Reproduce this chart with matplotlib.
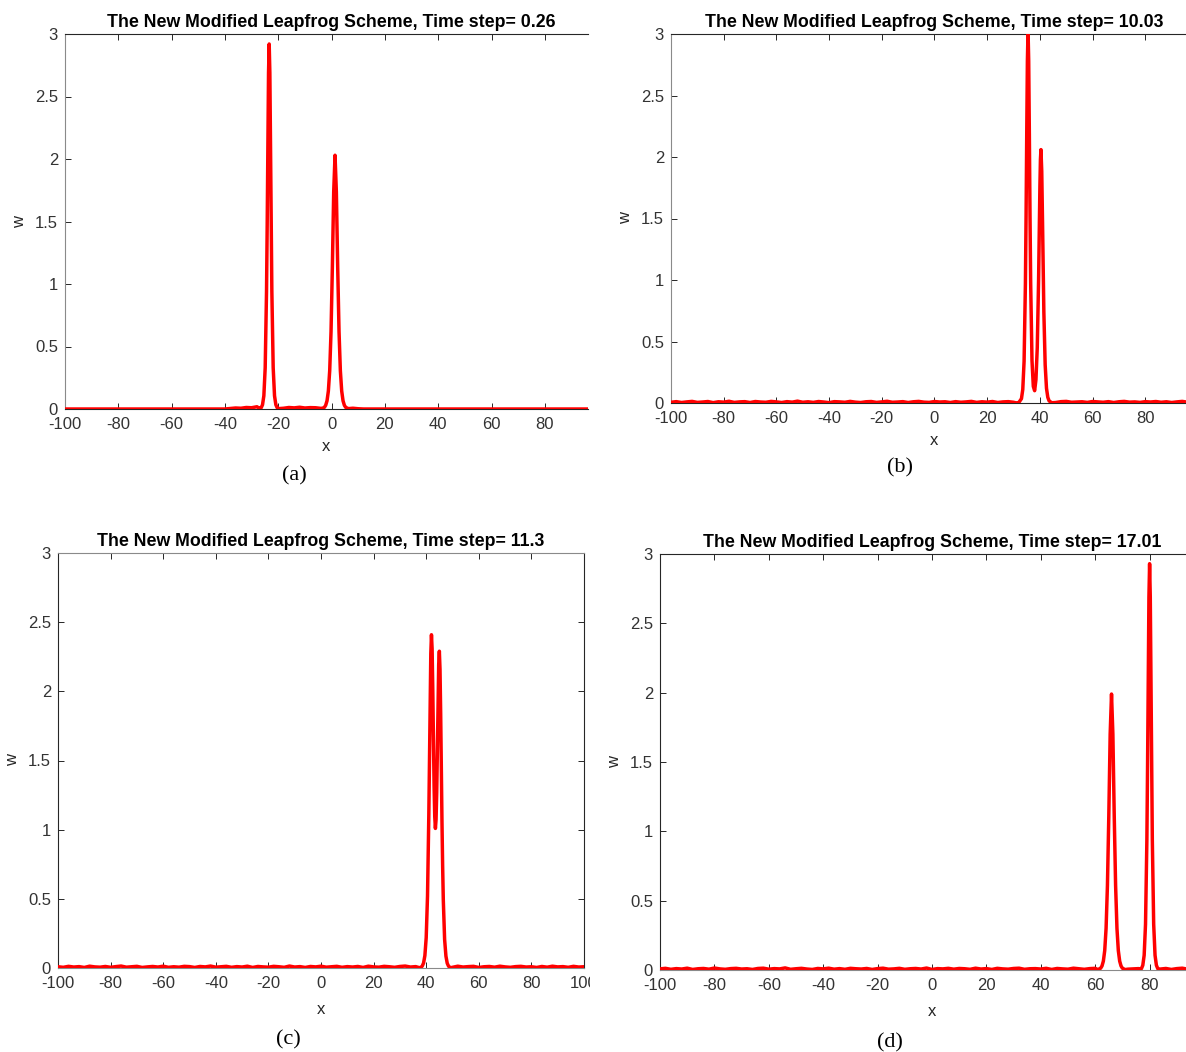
"""Four snapshots of the two-soliton run (New Modified Leapfrog scheme)"""
import matplotlib.pyplot as plt
import matplotlib as mpl
from matplotlib.transforms import Bbox, TransformedBbox
import numpy as np

# ── data ──
titles = ["The New Modified Leapfrog Scheme, Time step= 0.26",
          "The New Modified Leapfrog Scheme, Time step= 10.03",
          "The New Modified Leapfrog Scheme, Time step= 11.3",
          "The New Modified Leapfrog Scheme, Time step= 17.01"]
panel_tags = ["(a)", "(b)", "(c)", "(d)"]
y_ticks = [0, 0.5, 1, 1.5, 2, 2.5, 3]
y_ticklabels = ["0", "0.5", "1", "1.5", "2", "2.5", "3"]

# baseline samples every 2 units from -100 to 100 (small numerical noise)
noise_a = ([0.0] * 31
           + [0.004, 0.008, 0.006, 0.012, 0.010, 0.018]
           + [0.0] * 4
           + [0.006, 0.012, 0.009, 0.014, 0.008, 0.011, 0.010]
           + [0.005, 0.0, 0.0, 0.0, 0.0]
           + [0.0]
           + [0.006, 0.002]
           + [0.0] * 45)
noise_b = [0.006, 0.011, 0.004, 0.009, 0.013, 0.005, 0.008, 0.012, 0.003, 0.010,
           0.007, 0.014, 0.005, 0.009, 0.011, 0.004, 0.012, 0.008, 0.006, 0.013,
           0.009, 0.004, 0.011, 0.007, 0.015, 0.006, 0.010, 0.005, 0.012, 0.008,
           0.003, 0.011, 0.009, 0.006, 0.013, 0.007, 0.004, 0.010, 0.012, 0.005,
           0.009, 0.014, 0.006, 0.008, 0.011, 0.004, 0.010, 0.013, 0.007, 0.005,
           0.012, 0.008, 0.010, 0.004, 0.011, 0.006, 0.009, 0.013, 0.005, 0.010,
           0.007, 0.012, 0.004, 0.009, 0.011, 0.006, 0.014, 0.008, 0.005, 0.010,
           0.012, 0.007, 0.009, 0.004, 0.011, 0.013, 0.006, 0.008, 0.010, 0.005,
           0.012, 0.009, 0.006, 0.011, 0.004, 0.010, 0.013, 0.007, 0.009, 0.005,
           0.011, 0.008, 0.012, 0.006, 0.010, 0.004, 0.009, 0.013, 0.007, 0.011, 0.006]
noise_c = [0.009, 0.005, 0.012, 0.007, 0.010, 0.004, 0.013, 0.008, 0.006, 0.011,
           0.005, 0.010, 0.014, 0.006, 0.009, 0.012, 0.004, 0.008, 0.011, 0.007,
           0.013, 0.005, 0.009, 0.006, 0.012, 0.010, 0.004, 0.011, 0.008, 0.014,
           0.006, 0.009, 0.012, 0.005, 0.010, 0.007, 0.013, 0.004, 0.011, 0.008,
           0.006, 0.012, 0.009, 0.005, 0.014, 0.007, 0.010, 0.004, 0.011, 0.008,
           0.013, 0.006, 0.009, 0.012, 0.005, 0.010, 0.007, 0.011, 0.004, 0.013,
           0.008, 0.006, 0.012, 0.009, 0.005, 0.011, 0.014, 0.007, 0.010, 0.004,
           0.012, 0.008, 0.006, 0.011, 0.009, 0.005, 0.013, 0.007, 0.010, 0.012,
           0.004, 0.009, 0.011, 0.006, 0.013, 0.008, 0.005, 0.010, 0.012, 0.007,
           0.009, 0.004, 0.011, 0.006, 0.013, 0.008, 0.010, 0.005, 0.012, 0.007, 0.009]
noise_d = [0.008, 0.012, 0.005, 0.010, 0.007, 0.013, 0.004, 0.009, 0.011, 0.006,
           0.014, 0.008, 0.005, 0.010, 0.012, 0.007, 0.009, 0.004, 0.011, 0.013,
           0.006, 0.010, 0.008, 0.015, 0.005, 0.009, 0.012, 0.007, 0.004, 0.011,
           0.008, 0.013, 0.006, 0.010, 0.005, 0.012, 0.009, 0.007, 0.011, 0.004,
           0.010, 0.013, 0.006, 0.008, 0.012, 0.005, 0.009, 0.011, 0.007, 0.014,
           0.004, 0.010, 0.008, 0.012, 0.006, 0.011, 0.009, 0.005, 0.013, 0.007,
           0.010, 0.004, 0.012, 0.008, 0.006, 0.011, 0.013, 0.005, 0.009, 0.010,
           0.007, 0.012, 0.004, 0.011, 0.008, 0.006, 0.013, 0.009, 0.005, 0.010,
           0.012, 0.007, 0.009, 0.004, 0.011, 0.014, 0.006, 0.008, 0.010, 0.005,
           0.012, 0.009, 0.007, 0.011, 0.004, 0.010, 0.013, 0.006, 0.008, 0.011, 0.007]

# peak regions (x, w)
a_p1_x = [-26.9, -26.4, -25.9, -25.4, -24.9, -24.4, -24.15, -23.9, -23.65, -23.4,
          -23.15, -22.9, -22.65, -22.4, -21.9, -21.4, -20.9, -20.4, -19.9]
a_p1_w = [0.003, 0.010, 0.034, 0.106, 0.33, 0.94, 1.47, 2.11, 2.69, 2.92,
          2.69, 2.11, 1.47, 0.94, 0.33, 0.106, 0.034, 0.010, 0.003]
a_p2_x = [-3.7, -2.7, -2.2, -1.7, -1.2, -0.7, -0.2, 0.3, 0.8, 1.3,
          1.8, 2.3, 2.8, 3.3, 3.8, 4.3, 4.8, 5.3, 6.3]
a_p2_w = [0.003, 0.013, 0.030, 0.066, 0.144, 0.306, 0.619, 1.135, 1.737, 2.03,
          1.737, 1.135, 0.619, 0.306, 0.144, 0.066, 0.030, 0.013, 0.003]

b_p_x = [31, 32, 33, 33.5, 34, 34.5, 34.75, 35, 35.25, 35.5, 35.75, 36, 36.25, 36.5,
         37, 37.5, 38, 38.5, 39, 39.5, 40, 40.2, 40.4, 40.7, 41, 41.5, 42, 42.5,
         43, 43.5, 44.5]
b_p_w = [0.001, 0.004, 0.035, 0.11, 0.34, 0.97, 1.52, 2.18, 2.78, 3.03, 2.78, 2.18, 1.52, 0.97,
         0.345, 0.135, 0.10, 0.19, 0.45, 1.00, 1.76, 1.98, 2.06, 1.885, 1.47, 0.74, 0.31, 0.12,
         0.046, 0.017, 0.002]

c_p_x = [37.5, 38, 38.5, 39, 39.5, 40, 40.5, 41, 41.25, 41.5, 41.75, 42, 42.25, 42.5,
         42.75, 43, 43.25, 43.5, 43.75, 44, 44.25, 44.5, 44.75, 45, 45.25, 45.5,
         45.75, 46, 46.25, 46.5, 47, 47.5, 48, 48.5, 49, 49.5]
c_p_w = [0.002, 0.005, 0.014, 0.036, 0.090, 0.219, 0.520, 1.112, 1.521, 1.940, 2.273, 2.409, 2.306, 2.013,
         1.646, 1.314, 1.094, 1.009, 1.073, 1.269, 1.576, 1.919, 2.194, 2.290, 2.160, 1.843,
         1.445, 1.056, 0.736, 0.493, 0.207, 0.086, 0.034, 0.013, 0.005, 0.002]

d_p1_x = [61, 62, 62.5, 63, 63.5, 64, 64.5, 65, 65.5, 66,
          66.5, 67, 67.5, 68, 68.5, 69, 69.5, 70, 71]
d_p1_w = [0.003, 0.013, 0.029, 0.064, 0.14, 0.30, 0.61, 1.11, 1.70, 1.99,
          1.70, 1.11, 0.61, 0.30, 0.14, 0.064, 0.029, 0.013, 0.003]
d_p2_x = [76.5, 77, 77.5, 78, 78.5, 79, 79.25, 79.5, 79.75, 80,
          80.25, 80.5, 80.75, 81, 81.5, 82, 82.5, 83, 83.5]
d_p2_w = [0.003, 0.010, 0.034, 0.106, 0.33, 0.94, 1.47, 2.11, 2.69, 2.93,
          2.69, 2.11, 1.47, 0.94, 0.33, 0.106, 0.034, 0.010, 0.003]


def build(noise, peaks):
    """merge baseline samples with the peak samples"""
    xg = np.arange(-100, 101, 2.0)
    wg = np.array(noise, dtype=float)
    keep = np.ones(len(xg), bool)
    for px, pw in peaks:
        keep &= ~((xg >= min(px)) & (xg <= max(px)))
    x = np.concatenate([xg[keep]] + [np.array(px, float) for px, pw in peaks])
    w = np.concatenate([wg[keep]] + [np.array(pw, float) for px, pw in peaks])
    o = np.argsort(x)
    return x[o], w[o]


curves = [build(noise_a, [(a_p1_x, a_p1_w), (a_p2_x, a_p2_w)]),
          build(noise_b, [(b_p_x, b_p_w)]),
          build(noise_c, [(c_p_x, c_p_w)]),
          build(noise_d, [(d_p1_x, d_p1_w), (d_p2_x, d_p2_w)])]

# ── MATLAB-ish style ──
mpl.rcParams.update({
    "font.family": ["Liberation Sans", "DejaVu Sans"],
    "font.size": 12,
    "axes.linewidth": 0.8,
    "xtick.direction": "in",
    "ytick.direction": "in",
    "xtick.top": True,
    "ytick.right": True,
    "xtick.major.size": 4.5,
    "ytick.major.size": 4.5,
    "xtick.major.width": 0.7,
    "ytick.major.width": 0.7,
    "xtick.labelsize": 12,
    "ytick.labelsize": 12,
    "xtick.color": "#262626",
    "ytick.color": "#262626",
    "xtick.labelcolor": "#333333",
    "ytick.labelcolor": "#333333",
})

W, H = 1186, 1052
fig = plt.figure(figsize=(W / 100, H / 100), dpi=100)

# axes boxes in pixels: left, bottom(px from top), width, height ; plus xlim
boxes = [(65, 409, 523, 375, (-100, 96.2)),
         (671, 403, 527, 369, (-100, 100)),
         (58, 968, 526, 415, (-100, 100)),
         (660, 970, 544, 416, (-100, 100))]
tag_pos = [(294, 476), (900, 468), (288, 1040), (890, 1043)]
left_spine_col = ["#8a8a8a", "#8a8a8a", "#262626", "#262626"]
bottom_spine_col = ["#262626", "#262626", "#8a8a8a", "#8a8a8a"]
top_spine_col = ["#262626", "#262626", "#8a8a8a", "#262626"]
xlabel_pad = [5, 5, 8, 8]

for i in range(4):
    l, b, w, h, xl = boxes[i]
    ax = fig.add_axes([l / W, 1 - b / H, w / W, h / H])
    x, yv = curves[i]
    ax.plot(x, yv, color="#ff0000", linewidth=2.5, zorder=3)
    ax.set_xlim(*xl)
    ax.set_ylim(0, 3)
    ax.set_yticks(y_ticks)
    ax.set_yticklabels(y_ticklabels)
    if i == 2:
        ax.set_xticks(np.arange(-100, 101, 20))
    else:
        ax.set_xticks(np.arange(-100, 81, 20))
    ax.set_xticklabels([str(v) for v in ax.get_xticks().astype(int)])
    ax.tick_params(axis="x", pad=6)
    ax.tick_params(axis="y", pad=5)
    ax.spines["left"].set_color(left_spine_col[i])
    ax.spines["bottom"].set_color(bottom_spine_col[i])
    ax.spines["top"].set_color(top_spine_col[i])
    ax.spines["right"].set_color("#262626")
    if i == 0:
        ax.spines["right"].set_visible(False)
        ax.tick_params(right=False)
        ax.set_title(titles[i], fontsize=12.8, fontweight="bold",
                     x=100 / 196.2, pad=5)
    else:
        ax.set_title(titles[i], fontsize=12.8, fontweight="bold", pad=5)
    ax.set_xlabel("x", fontsize=12, color="#262626", labelpad=xlabel_pad[i])
    ax.set_ylabel("w", fontsize=12, color="#262626", labelpad=6)
    if i == 2:
        # the right panel edge cuts the "100" label
        cb = TransformedBbox(Bbox([[0, 0], [590 / W, 0.5]]), fig.transFigure)
        for lab in ax.get_xticklabels():
            lab.set_clip_box(cb)
            lab.set_clip_on(True)

    tx, ty = tag_pos[i]
    fig.text(tx / W, 1 - ty / H, panel_tags[i], ha="center", va="center",
             fontsize=16, family=["Liberation Serif", "DejaVu Serif"])

fig.savefig("out.png", dpi=100)
print("OK")
